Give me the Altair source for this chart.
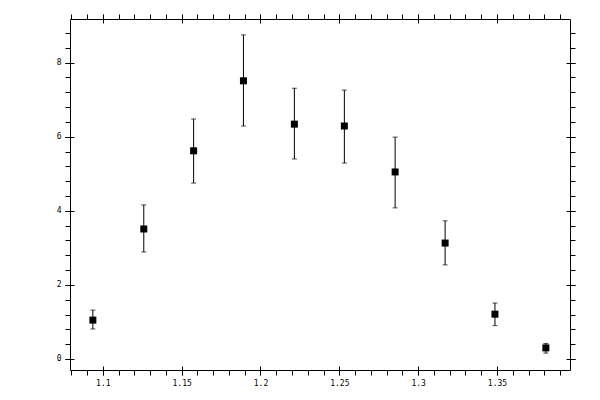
import altair as alt
import pandas as pd

# data
x_vals = [1.0937, 1.1260, 1.1576, 1.1892, 1.2215, 1.2532, 1.2854, 1.3171, 1.3487, 1.3810]
y_vals = [1.05, 3.51, 5.62, 7.51, 6.34, 6.29, 5.05, 3.13, 1.21, 0.30]
y_lo = [0.81, 2.89, 4.75, 6.29, 5.40, 5.29, 4.08, 2.54, 0.90, 0.16]
y_hi = [1.32, 4.16, 6.48, 8.75, 7.31, 7.26, 5.99, 3.73, 1.51, 0.42]

x_major = [1.1, 1.15, 1.2, 1.25, 1.3, 1.35]
x_minor = [round(1.08 + 0.01 * i, 2) for i in range(32)]
y_major = [0, 2, 4, 6, 8]
y_minor = [round(0.4 * i, 1) for i in range(23)]

df = pd.DataFrame({"x": x_vals, "y": y_vals, "lo": y_lo, "hi": y_hi})

xs = alt.Scale(domain=[1.0792, 1.3963], nice=False, zero=False)
ys = alt.Scale(domain=[-0.297, 9.179], nice=False, zero=False)

FONT = "DejaVu Sans Mono"


def ax(orient, values, size, offset=0, labels=False, domain=False):
    kw = dict(orient=orient, values=values, tickSize=size, tickColor="black",
              tickWidth=1, grid=False, labels=labels, domain=domain, ticks=True,
              title=None)
    if domain:
        kw.update(domainColor="black", domainWidth=1)
    if offset:
        kw["offset"] = offset
    if labels:
        kw.update(labelFont=FONT, labelFontSize=8, labelColor="black",
                  labelPadding=4, format="~g")
    return alt.Axis(**kw)


base = alt.Chart(df)

rules = base.mark_rule(color="black", strokeWidth=1).encode(
    x=alt.X("x:Q", scale=xs, axis=ax("bottom", x_minor, 5)),
    y=alt.Y("lo:Q", scale=ys, axis=ax("left", y_minor, 5)),
    y2="hi:Q",
)

caps_lo = base.mark_tick(orient="horizontal", size=5, thickness=1, color="black").encode(
    x=alt.X("x:Q", scale=xs, axis=ax("bottom", x_major, 4, offset=-4)),
    y=alt.Y("lo:Q", scale=ys, axis=ax("left", y_major, 4, offset=-4)),
)

caps_hi = base.mark_tick(orient="horizontal", size=5, thickness=1, color="black").encode(
    x=alt.X("x:Q", scale=xs, axis=ax("top", x_major, 5, domain=True)),
    y=alt.Y("hi:Q", scale=ys, axis=ax("right", y_major, 5, domain=True)),
)

ghost1 = base.mark_point(opacity=0).encode(
    x=alt.X("x:Q", scale=xs, axis=ax("top", x_minor, 5)),
    y=alt.Y("y:Q", scale=ys, axis=ax("right", y_minor, 5)),
)

ghost2 = base.mark_point(opacity=0).encode(
    x=alt.X("x:Q", scale=xs, axis=ax("top", x_major, 4, offset=-4)),
    y=alt.Y("y:Q", scale=ys, axis=ax("right", y_major, 4, offset=-4)),
)

points = base.mark_square(size=49, color="black", opacity=1, filled=True).encode(
    x=alt.X("x:Q", scale=xs, axis=ax("bottom", x_major, 5, labels=True, domain=True)),
    y=alt.Y("y:Q", scale=ys, axis=ax("left", y_major, 5, labels=True, domain=True)),
)

chart = (
    alt.layer(rules, caps_lo, caps_hi, ghost1, ghost2, points)
    .resolve_axis(x="independent", y="independent")
    .properties(
        width=500,
        height=351,
        autosize=alt.AutoSizeParams(type="none"),
        padding={"left": 62, "top": 11, "right": 22, "bottom": 22},
        background="white",
    )
    .configure_view(strokeWidth=0)
)

chart.save("out.html", embed_options={"renderer": "svg", "actions": False})
